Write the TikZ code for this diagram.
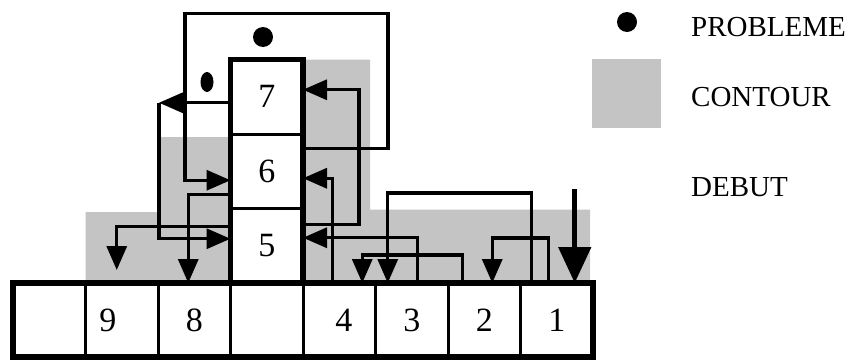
\documentclass[tikz,border=0pt]{standalone}
\usepackage{fontspec}
\setmainfont{Liberation Serif}
\usetikzlibrary{arrows.meta,positioning,calc,shapes.geometric}
\definecolor{Ink}{HTML}{000000}
\definecolor{Stipple}{HTML}{C4C4C4}
\tikzset{cell/.style={draw=Ink,line width=3pt,fill=white,minimum width=72.5pt,
    minimum height=74pt,inner sep=0pt,outer sep=0pt,font=\fontsize{34}{34}\selectfont},
  colbox/.style={cell,minimum height=74.5pt},
  heavy/.style={draw=Ink,line width=5.5pt},
  link/.style={-{Triangle[length=24pt,width=20pt]},line width=3.3pt,draw=Ink},
  debut/.style={-{Triangle[length=36pt,width=32pt]},line width=5pt,draw=Ink},
  contour/.style={fill=Stipple},
  dot/.style={circle,fill=Ink,inner sep=0pt,minimum size=20pt},
  legend/.style={font=\fontsize{29}{29}\selectfont,anchor=west,inner sep=0pt,text=Ink}}

\begin{document}
\begin{tikzpicture}[x=1pt,y=1pt]
    \useasboundingbox (0,0) rectangle (857,-359);
    % bottom row
    \node[cell] (c0) at (49.25,-320) {};
    \node[cell,right=0pt of c0] (c9) {\hspace*{-28pt}9};
    \node[cell,right=0pt of c9] (c8) {8};
    \node[cell,right=0pt of c8] (cz) {};
    \node[cell,right=0pt of cz] (c4) {\hspace*{9pt}4};
    \node[cell,right=0pt of c4] (c3) {3};
    \node[cell,right=0pt of c3] (c2) {2};
    \node[cell,right=0pt of c2] (c1) {1};
    % column
    \node[colbox,above=0pt of cz] (b5) {5};
    \node[colbox,above=0pt of b5] (b6) {6};
    \node[colbox,above=0pt of b6] (b7) {7};
    % contour
    \fill[contour] (c9.north west) |- ($(c9.north west)+(74,71)$) |- ($(b6.north west)+(0,-3)$)
      -- (b5.south west) -- cycle;
    \fill[contour] (b7.north east) -| ($(b7.north east)+(67,-150)$) -| ($(c1.north east)+(-3,0)$)
      -- (b5.south east) -- cycle;
    \draw[heavy] (c0.north west) rectangle (c1.south east);
    \draw[heavy] (b5.south west) |- (b7.north east) -- (b5.south east);
    % links
    \draw[link] ($(b6.east)+(0,23)$) -- ++(85,0) -- ++(0,135) -| ($(b6.west)+(-45.5,-9)$) -- ($(b6.west)+(0,-9)$);
    \coordinate (kb) at ($(b7.west)+(-71.5,-6)$);
    \draw[link] ($(b7.west)+(0,-6)$) -- (kb);
    \draw[link] (kb) |- ($(b5.west)+(0,7)$);
    \draw[link] ($(b6.west)+(0,-23)$) -| ($(c8.north)+(-6,0)$);
    \draw[link] ($(b5.west)+(0,19)$) -| ($(c9.north)+(-5,13)$);
    \draw[link] ($(b5.east)+(0,21)$) -- ++(56,0) |- ($(b7.east)+(0,7)$);
    \draw[link] ($(c4.north)+(-7,0)$) |- ($(b6.east)+(0,-7)$);
    \draw[link] ($(c3.north)+(6,0)$) |- ($(b5.east)+(0,8)$);
    \draw[link] ($(c2.north)+(-22,0)$) -- ++(0,28) -| ($(c4.north)+(23,0)$);
    \draw[link] ($(c1.north)+(-25,0)$) -- ++(0,90) -| ($(c3.north)+(-24,0)$);
    \draw[link] ($(c1.north)+(-8,0)$) -- ++(0,45) -| ($(c2.north)+(8,0)$);
    \draw[debut] ($(c1.north)+(18,94)$) -- ($(c1.north)+(18,0)$);
    % problems
    \node[dot] (pb1) at (263,-37) {};
    \node[dot,ellipse,minimum width=13pt,minimum height=20pt] (pb2) at (207,-82) {};
    % legend
    \node[dot] (lgdot) at (627,-22) {};
    \node[legend] (lgprob) at (691,-27) {PROBLEME};
    \node[contour,minimum size=69pt,inner sep=0pt] (lgsw) at (626.5,-93.5) {};
    \node[legend] (lgcont) at (691,-97) {CONTOUR};
    \node[legend] (lgdeb) at (691,-187) {DEBUT};
  \end{tikzpicture}
\end{document}
